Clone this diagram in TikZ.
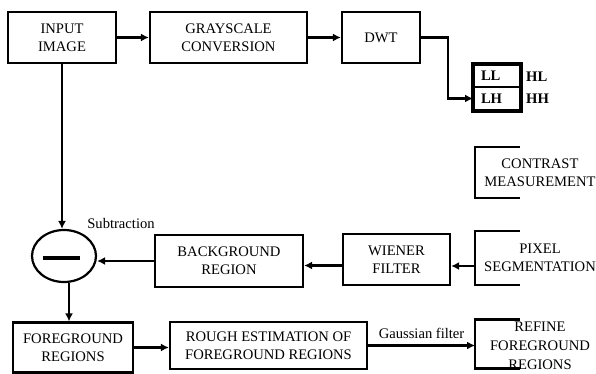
\documentclass[tikz,border=0pt]{standalone}
\usepackage{fontspec}
\setmainfont{Liberation Serif}
\usetikzlibrary{arrows.meta,shapes.geometric}
\begin{document}
\begin{tikzpicture}[x=1pt,y=-1pt,
  txt/.style={font=\fontsize{14.6}{18}\selectfont},
  box/.style={txt,draw,line width=2.2pt,align=center,inner sep=0pt},
  openbox/.style={txt,align=center,inner sep=0pt},
  ln/.style={line width=2.2pt},
  arr/.style={line width=2.2pt,-{Latex[length=8pt,width=8pt]}},
  lbl/.style={txt,inner sep=0pt},
  cell/.style={txt,font=\fontsize{14.6}{18}\selectfont\bfseries,draw,line width=2pt,inner sep=0pt,
    minimum width=46pt,text width=32pt,align=left}
]
\useasboundingbox (0,0) rectangle (596,374);

% top row
\node[box,minimum width=108pt,minimum height=51pt] (input) at (62,37.5) {INPUT\\IMAGE};
\node[box,minimum width=157pt,minimum height=51pt] (gray) at (228.5,37.5) {GRAYSCALE\\CONVERSION};
\node[box,minimum width=78pt,minimum height=51pt] (dwt) at (381,37.5) {DWT};

% DWT sub-bands
\node[cell,minimum height=22pt] (ll) at (497,76) {LL};
\node[cell,minimum height=23pt] (lh) at (497,98.5) {LH};
\draw[line width=3.2pt] (ll.north west) rectangle (lh.south east);
\node[lbl,font=\fontsize{14.6}{18}\selectfont\bfseries,anchor=west] (hl) at (526,77) {HL};
\node[lbl,font=\fontsize{14.6}{18}\selectfont\bfseries,anchor=west] (hh) at (526,98.5) {HH};

% right column (clipped boxes)
\node[openbox,minimum width=130pt,minimum height=51pt] (contrast) at (540,172.5) {CONTRAST\\MEASUREMENT};
\draw[ln] ([xshift=45pt]contrast.north west) -- (contrast.north west) -- (contrast.south west) -- ([xshift=45pt]contrast.south west);
\node[openbox,minimum width=130pt,minimum height=54pt] (pixel) at (540,258) {PIXEL\\SEGMENTATION};
\draw[ln] ([xshift=45pt]pixel.north west) -- (pixel.north west) -- (pixel.south west) -- ([xshift=45pt]pixel.south west);
\node[openbox,font=\fontsize{14.6}{19}\selectfont] (refine) at (540,345.5) {REFINE\\FOREGROUND\\REGIONS};
\coordinate (refw) at ([shift={(-65,0)}]refine.center);
\draw[ln] ([shift={(-20,-26)}]refine.center) -- ([shift={(-65,-26)}]refine.center) -- ([shift={(-65,23)}]refine.center) -- ([shift={(-20,23)}]refine.center);

% middle row
\node[box,minimum width=107pt,minimum height=51pt] (wiener) at (396.5,259.5) {WIENER\\FILTER};
\node[box,minimum width=148pt,minimum height=52pt] (bg) at (229,261) {BACKGROUND\\REGION};
\node[draw,ellipse,line width=2.2pt,minimum width=64pt,minimum height=52pt,inner sep=0pt] (sub) at (64,256) {};
\draw[line width=3.5pt] ([xshift=-21pt,yshift=-2pt]sub.center) -- ([xshift=16pt,yshift=-2pt]sub.center);
\node[lbl] (sublbl) at (121,224) {Subtraction};

% bottom row
\node[box,minimum width=120pt,minimum height=50pt] (fg) at (73,347.5) {FOREGROUND\\REGIONS};
\node[box,minimum width=197pt,minimum height=47pt] (rough) at (268.5,345.5) {ROUGH ESTIMATION OF\\FOREGROUND REGIONS};

% connectors
\draw[arr] (input) -- (gray);
\draw[arr] (gray) -- (dwt);
\draw[arr] (dwt.east) -- ++(27,0) |- (lh.west);
\draw[arr] (input.south) -- (input.south |- sub.north);
\draw[arr] ([xshift=5pt]sub.south) -- ([xshift=5pt]sub.south |- fg.north);
\draw[arr] (bg.west) -- (bg.west -| sub.east);
\draw[arr] ([yshift=-6pt]wiener.west) -- ([yshift=-6pt]wiener.west -| bg.east);
\draw[arr] ([yshift=-8pt]pixel.west) -- ([yshift=-8pt]pixel.west -| wiener.east);
\draw[arr] (fg.east) -- (fg.east -| rough.west);
\draw[arr] (rough.east) -- (rough.east -| refw) node[lbl,midway,above=6pt] (gauss) {Gaussian filter};
\end{tikzpicture}
\end{document}
